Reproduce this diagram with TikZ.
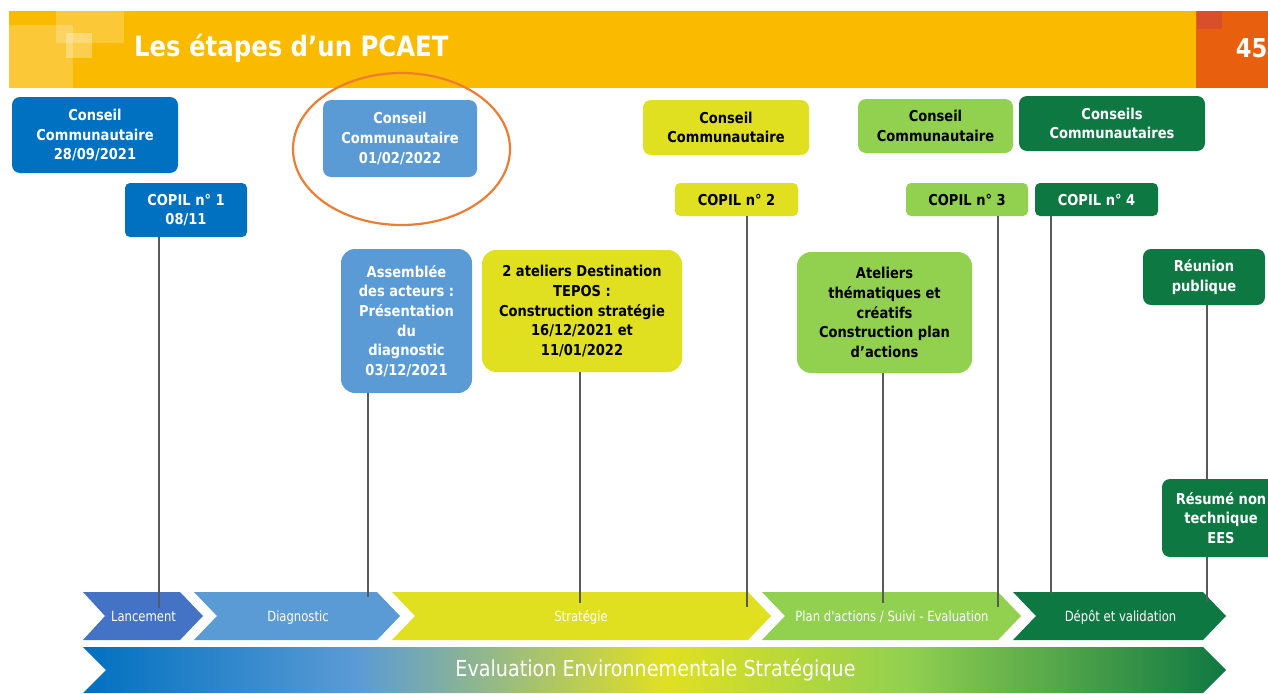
\documentclass[tikz,border=0pt]{standalone}
\usepackage{fontspec}
\setmainfont{DejaVu Sans}
\newfontfamily\bxfont[FakeStretch=0.87]{DejaVu Sans}
\newfontfamily\lbfont[FakeStretch=0.83]{DejaVu Sans}
\newfontfamily\eesfont[FakeStretch=0.87]{DejaVu Sans}
\definecolor{hdrYellow}{HTML}{FABA00}
\definecolor{hdrOrange}{HTML}{E8600E}
\definecolor{hdrSquare}{HTML}{D94F2A}
\definecolor{cDBlue}{HTML}{0070C0}
\definecolor{cLBlue}{HTML}{4472C4}
\definecolor{cMBlue}{HTML}{5B9BD5}
\definecolor{cYellow}{HTML}{E0E021}
\definecolor{cLGreen}{HTML}{92D050}
\definecolor{cDGreen}{HTML}{0E7843}
\definecolor{cOrange}{HTML}{ED7D31}
\definecolor{cLine}{HTML}{5A5A5A}
\pgfdeclarehorizontalshading{eesshade}{100bp}{color(0bp)=(cDBlue); color(25bp)=(cDBlue); color(37bp)=(cMBlue); color(50.5bp)=(cYellow); color(61bp)=(cLGreen); color(75bp)=(cDGreen); color(100bp)=(cDGreen)}
\tikzset{
  box/.style={rounded corners=8pt, inner sep=0pt, align=center,
    font={\bxfont\bfseries\fontsize{15}{19.7}\selectfont}},
  bigbox/.style={box, rounded corners=14pt},
  smallbox/.style={box, rounded corners=5pt},
  onDBlue/.style={fill=cDBlue, text=white},
  onMBlue/.style={fill=cMBlue, text=white},
  onYellow/.style={fill=cYellow, text=black},
  onLGreen/.style={fill=cLGreen, text=black},
  onDGreen/.style={fill=cDGreen, text=white},
  conn/.style={draw=cLine, line width=1.3pt},
  chevlabel/.style={text=white, inner sep=0pt, anchor=base, font={\lbfont\fontsize{14}{16}\selectfont}},
}
\begin{document}
\begin{tikzpicture}[x=1pt,y=-1pt]
\useasboundingbox (0,0) rectangle (1268,693);
\clip (0,0) rectangle (1268,693);
% header
\fill[hdrYellow] (9,11) rectangle (1196,88);
\fill[white, opacity=0.22] (9,25) rectangle (73,88);
\fill[white, opacity=0.22] (56,11) rectangle (124,43);
\fill[white, opacity=0.3] (66,33) rectangle (92,58);
\fill[hdrOrange] (1196,11) rectangle (1268,88);
\fill[hdrSquare] (1197,11) rectangle (1222,29);
\node[anchor=west, text=white, inner sep=0pt, font={\bxfont\bfseries\fontsize{28}{30}\selectfont}] (title) at (134,48) {Les étapes d’un PCAET};
\node[anchor=east, text=white, inner sep=0pt, font={\bxfont\bfseries\fontsize{26}{30}\selectfont}] (pnum) at (1267.5,48) {45};
% chevrons
\fill[cLBlue] (83,592) -- (180,592) -- (203,616) -- (180,640) -- (83,640) -- (105,616) -- cycle;
\fill[cMBlue] (194,592) -- (377,592) -- (400,616) -- (377,640) -- (194,640) -- (217,616) -- cycle;
\fill[cYellow] (392,592) -- (748,592) -- (771,616) -- (748,640) -- (392,640) -- (415,616) -- cycle;
\fill[cLGreen] (762,592) -- (998,592) -- (1021,616) -- (998,640) -- (762,640) -- (785,616) -- cycle;
\fill[cDGreen] (1013,592) -- (1203,592) -- (1226,616) -- (1203,640) -- (1013,640) -- (1036,616) -- cycle;
\shade[shading=eesshade] (83,647) -- (1203,647) -- (1226,670) -- (1203,693) -- (83,693) -- (106,670) -- cycle;
\node[chevlabel] (lanc) at (143.5,621) {Lancement};
\node[chevlabel] (diag) at (298,621) {Diagnostic};
\node[chevlabel] (strat) at (581,621) {Stratégie};
\node[chevlabel] (plan) at (892,621) {Plan d'actions / Suivi - Evaluation};
\node[chevlabel] (depot) at (1120.5,621) {Dépôt et validation};
\node[chevlabel, font={\eesfont\fontsize{22}{24}\selectfont}] (ees) at (655.5,676.5) {Evaluation Environnementale Stratégique};
% boxes
\node[box, onDBlue, minimum width=166pt, minimum height=76pt] (cc1) at (95,135) {Conseil\\Communautaire\\28/09/2021};
\node[smallbox, onDBlue, minimum width=122pt, minimum height=54pt] (copil1) at (186,210) {COPIL n° 1\\08/11};
\node[box, onMBlue, minimum width=154pt, minimum height=77pt] (cc2) at (400,138.5) {Conseil\\Communautaire\\01/02/2022};
\draw[cOrange, line width=2.2pt] (401.5,149) ellipse [x radius=108.5pt, y radius=76pt];
\node[bigbox, onMBlue, minimum width=131pt, minimum height=144pt] (assem) at (406.5,321) {Assemblée\\des acteurs :\\Présentation\\du\\diagnostic\\03/12/2021};
\node[bigbox, onYellow, minimum width=200pt, minimum height=122pt] (atel2) at (582,311) {2 ateliers Destination\\TEPOS :\\Construction stratégie\\16/12/2021 et\\11/01/2022};
\node[box, onYellow, minimum width=166pt, minimum height=55pt] (cc3) at (726,127.5) {Conseil\\Communautaire};
\node[smallbox, onYellow, minimum width=123pt, minimum height=33pt] (copil2) at (736.5,199.5) {COPIL n° 2};
\node[box, onLGreen, minimum width=155pt, minimum height=54pt] (cc4) at (935.5,126) {Conseil\\Communautaire};
\node[smallbox, onLGreen, minimum width=122pt, minimum height=33pt] (copil3) at (967,199.5) {COPIL n° 3};
\node[box, onDGreen, minimum width=186pt, minimum height=55pt] (cc5) at (1112,123.5) {Conseils\\Communautaires};
\node[smallbox, onDGreen, minimum width=123pt, minimum height=33pt] (copil4) at (1096.5,199.5) {COPIL n° 4};
\node[bigbox, onLGreen, minimum width=175pt, minimum height=121pt] (atel3) at (884.5,312.5) {Ateliers\\thématiques et\\créatifs\\Construction plan\\d’actions};
\node[box, onDGreen, minimum width=122pt, minimum height=56pt] (reun) at (1204,277) {Réunion\\publique};
\node[box, onDGreen, minimum width=118pt, minimum height=78pt] (resume) at (1221,518) {Résumé non\\technique\\EES};
% connector ends
\coordinate (e1) at (159,608);
\coordinate (e2) at (368,597);
\coordinate (e3) at (580,603);
\coordinate (e4) at (747,607);
\coordinate (e5) at (883,603);
\coordinate (e6) at (998,607);
\coordinate (e7) at (1051,593);
\coordinate (e8) at (1207,602);
\draw[conn] (e1 |- copil1.south) -- (e1);
\draw[conn] (e2 |- assem.south) -- (e2);
\draw[conn] (e3 |- atel2.south) -- (e3);
\draw[conn] (e4 |- copil2.south) -- (e4);
\draw[conn] (e5 |- atel3.south) -- (e5);
\draw[conn] (e6 |- copil3.south) -- (e6);
\draw[conn] (e7 |- copil4.south) -- (e7);
\draw[conn] (e8 |- reun.south) -- (e8 |- resume.north);
\draw[conn] (e8 |- resume.south) -- (e8);
\end{tikzpicture}
\end{document}
